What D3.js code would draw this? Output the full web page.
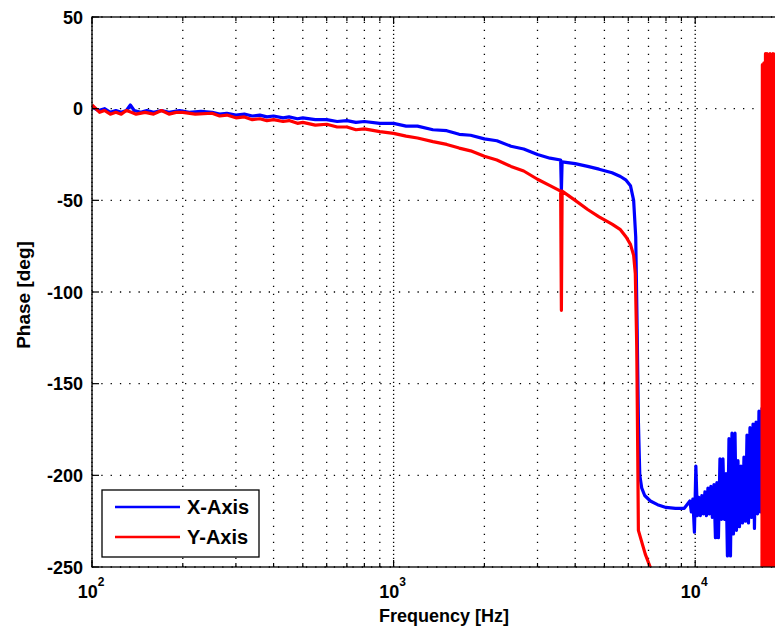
<!DOCTYPE html>
<html>
<head>
<meta charset="utf-8">
<script src="https://cdn.jsdelivr.net/npm/d3@7"></script>
<style>
  body { margin: 0; background: #fff; }
  svg { font-family: "Liberation Sans", Arial, sans-serif; font-weight: bold; }
</style>
</head>
<body>
<div id="chart-area"></div>
<script>
// phase response
const yTicks = [50, 0, -50, -100, -150, -200, -250];
const decades = [100, 1000, 10000];
const seriesNames = ['X-Axis', 'Y-Axis'];

const blueFreq = [100, 105, 110, 115, 120, 125, 130, 134, 138, 145, 152, 160, 170, 180, 195, 210, 230, 250, 265, 280,
  300, 320, 340, 360, 380, 400, 430, 450, 480, 500, 550, 600, 650, 700, 750, 800, 900, 1000, 1100, 1200,
  1350, 1500, 1650, 1800, 2000, 2200, 2450, 2700, 3000, 3300, 3580, 3600, 3620, 4000, 4400, 4800, 5300,
  5650, 5900, 6100, 6250, 6350, 6420, 6480, 6550, 6650, 6800, 7100, 7500, 8000, 8600, 9200,
  9600, 9710, 9820, 9940, 10050, 10170, 10280, 10400, 10520, 10640, 10770, 10890, 11020, 11150, 11270, 11400,
  11540, 11670, 11800, 11940, 12080, 12220, 12360, 12500, 12650, 12790, 12940, 13090, 13240, 13390, 13550, 13700,
  13860, 14020, 14180, 14350, 14510, 14680, 14850, 15020, 15190, 15370, 15550, 15720, 15910, 16090, 16270, 16460, 16650];
const bluePhase = [1, -1, 0, -2, -1, -2, -1, 2, -1, -2, -1, -2, -1, -2, -1, -2, -1.5, -2, -3, -2.5,
  -3.5, -3, -4, -3.5, -4.5, -4, -5, -4.5, -5.5, -5, -6, -6, -7, -6.5, -7.5, -7, -8, -8, -9.5, -9.5,
  -11.5, -12, -14, -14.5, -16.5, -17.5, -20.5, -22, -25, -27, -28, -45, -29, -30, -31.5, -33, -35,
  -37, -39, -42, -50, -70, -120, -170, -200, -207, -211, -214, -216, -217.5, -218, -218,
  -214, -220, -213, -231, -195, -222, -212, -222, -211, -221, -209, -222, -207, -221, -206, -223,
  -205, -234, -204, -234, -191, -224, -191, -224, -199, -244, -180, -244, -177, -232, -177, -230,
  -192, -228, -195, -226, -190, -225, -178, -226, -174, -223, -172, -229, -171, -221, -165, -220, -163];

const redFreq = [100, 103, 106, 110, 115, 120, 125, 130, 135, 140, 150, 160, 170, 180, 190, 200, 220, 250, 265, 280,
  300, 320, 340, 360, 380, 400, 430, 450, 480, 500, 550, 600, 650, 700, 750, 800, 900, 1000, 1100, 1200,
  1350, 1500, 1650, 1800, 2000, 2200, 2450, 2700, 3000, 3300, 3580, 3600, 3620, 4000, 4400, 4800, 5300,
  5650, 5900, 6100, 6250, 6330, 6400, 6450, 6480, 6830, 7090, 7300, 16650,
  16700, 16800, 16900, 17000, 17100, 17200, 17300, 17400, 17500, 17600, 17700, 17800, 17900, 18000, 18100, 18200,
  18300, 18400, 18500, 18600, 18700, 18800, 18900, 19000, 19100, 19200, 19300, 19400, 19500, 19600, 19700, 19800,
  19900, 20000];
const redPhase = [2, 0, -2, -1, -3, -2, -3, -1, -2, -3, -2, -3, -1, -3, -2, -2, -3, -2.5, -4, -3.5,
  -5, -4.5, -6, -5.5, -6.5, -6, -7, -6.5, -8, -7.5, -9, -8.5, -10, -10, -11.5, -11, -12.5, -13.5, -15, -16,
  -18, -19.5, -21.5, -23, -26, -28, -31.5, -34, -38.5, -42, -45, -110, -45, -50, -55, -59, -63,
  -66, -70, -74, -80, -90, -130, -190, -230, -243, -250, -256, -262,
  24, -262, 25, -262, 30, -262, 30, -262, 29, -262, 30, -262, 29, -262, 30, -262,
  29, -262, 30, -262, 29, -262, 30, -262, 29, -262, 30, -262, 29, -262, 30, -262,
  29, -262];

const width = 775, height = 633;
const margin = { left: 92, top: 17, right: 786, bottom: 567 };

const svg = d3.select('#chart-area').append('svg')
  .attr('width', width)
  .attr('height', height);

const x = d3.scaleLog().domain([100, 20000]).range([margin.left, margin.right]);
const y = d3.scaleLinear().domain([-250, 50]).range([margin.bottom, margin.top]);

// minor log positions 2..9 for each decade
const minor = [];
decades.forEach(d => {
  for (let k = 2; k <= 9; k++) {
    if (d * k <= 20000) minor.push(d * k);
  }
});

svg.append('defs').append('clipPath').attr('id', 'clip')
  .append('rect')
  .attr('x', margin.left).attr('y', margin.top)
  .attr('width', margin.right - margin.left).attr('height', margin.bottom - margin.top);

// grid
const grid = svg.append('g').attr('stroke', '#000').attr('stroke-width', 1.3);
grid.selectAll('.vmin').data(minor.concat(decades)).enter().append('line')
  .attr('x1', d => x(d)).attr('x2', d => x(d))
  .attr('y1', margin.bottom).attr('y2', margin.top)
  .attr('stroke-dasharray', '1.3,6.7');
grid.selectAll('.vmaj').data(decades).enter().append('line')
  .attr('x1', d => x(d)).attr('x2', d => x(d))
  .attr('y1', margin.bottom - 4).attr('y2', margin.top)
  .attr('stroke-dasharray', '1.3,6.7');
grid.selectAll('.h').data(yTicks).enter().append('line')
  .attr('x1', margin.left).attr('x2', margin.right)
  .attr('y1', d => y(d)).attr('y2', d => y(d))
  .attr('stroke-dasharray', '1.3,8');

// curves
const line = d3.line().x(d => x(d[0])).y(d => y(d[1]));
const plot = svg.append('g').attr('clip-path', 'url(#clip)');
plot.append('path')
  .attr('d', line(d3.zip(blueFreq, bluePhase)))
  .attr('fill', 'none').attr('stroke', '#0000ff').attr('stroke-width', 3.2)
  .attr('stroke-linejoin', 'round');
plot.append('path')
  .attr('d', line(d3.zip(redFreq, redPhase)))
  .attr('fill', 'none').attr('stroke', '#ff0000').attr('stroke-width', 3.2)
  .attr('stroke-linejoin', 'round');

// box
svg.append('rect')
  .attr('x', margin.left).attr('y', margin.top)
  .attr('width', margin.right - margin.left).attr('height', margin.bottom - margin.top)
  .attr('fill', 'none').attr('stroke', '#000').attr('stroke-width', 1.3);

// ticks (inward, bottom and top)
const ticks = svg.append('g').attr('stroke', '#000').attr('stroke-width', 1.2);
const xt = decades.map(d => ({ v: d, len: 7 })).concat(minor.map(d => ({ v: d, len: 4 })));
ticks.selectAll('.tb').data(xt).enter().append('line')
  .attr('x1', d => x(d.v)).attr('x2', d => x(d.v))
  .attr('y1', margin.bottom).attr('y2', d => margin.bottom - d.len);
ticks.selectAll('.tt').data(xt).enter().append('line')
  .attr('x1', d => x(d.v)).attr('x2', d => x(d.v))
  .attr('y1', margin.top).attr('y2', d => margin.top + d.len);
ticks.selectAll('.ty').data(yTicks).enter().append('line')
  .attr('x1', margin.left).attr('x2', margin.left + 7)
  .attr('y1', d => y(d)).attr('y2', d => y(d));

// y tick labels
svg.selectAll('.ylab').data(yTicks).enter().append('text')
  .attr('x', 83).attr('y', d => y(d) + 6.5)
  .attr('text-anchor', 'end')
  .attr('font-size', 18)
  .text(d => d);

// x tick labels 10^n
const xl = svg.selectAll('.xlab').data(decades).enter().append('text')
  .attr('x', d => x(d) - 1).attr('y', 598)
  .attr('text-anchor', 'middle')
  .attr('font-size', 18);
xl.append('tspan').text('10');
xl.append('tspan').attr('font-size', 12).attr('dy', -12).text(d => Math.round(Math.log10(d)));

// axis labels
svg.append('text')
  .attr('x', 444).attr('y', 622)
  .attr('text-anchor', 'middle').attr('font-size', 18)
  .text('Frequency [Hz]');
svg.append('text')
  .attr('transform', 'translate(30,295) rotate(-90)')
  .attr('text-anchor', 'middle').attr('font-size', 19)
  .text('Phase [deg]');

// legend
const legend = svg.append('g');
legend.append('rect')
  .attr('x', 102).attr('y', 490).attr('width', 157).attr('height', 67)
  .attr('fill', '#fff').attr('stroke', '#000').attr('stroke-width', 1.3);
const colors = ['#0000ff', '#ff0000'];
seriesNames.forEach((name, i) => {
  const ly = 507 + i * 30;
  legend.append('line')
    .attr('x1', 115).attr('x2', 180).attr('y1', ly).attr('y2', ly)
    .attr('stroke', colors[i]).attr('stroke-width', 2.6);
  legend.append('text')
    .attr('x', 187).attr('y', ly + 7)
    .attr('font-size', 20)
    .text(name);
});
</script>
</body>
</html>
